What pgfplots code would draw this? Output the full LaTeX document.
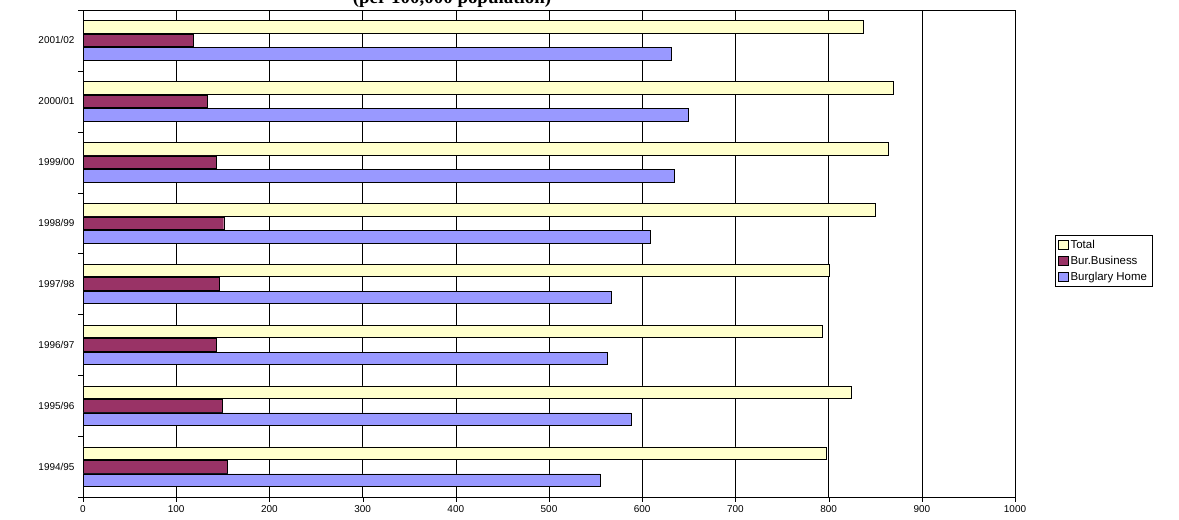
\documentclass[border=0pt]{standalone}
\usepackage{pgfplots}
\pgfplotsset{compat=1.18}
\usepackage{fontspec}
\setmainfont{Liberation Sans}
\newfontfamily\serifb{Liberation Serif}
\definecolor{cT}{HTML}{FFFFCC}
\definecolor{cB}{HTML}{993366}
\definecolor{cH}{HTML}{9999FF}
\begin{document}
\begin{tikzpicture}[x=1bp,y=1bp]
\useasboundingbox (0,0) rectangle (1179,520);
\begin{scope}
\clip (0,0) rectangle (1179,520);
\node[font=\serifb\bfseries\fontsize{19}{20}\selectfont] at (452,521) {(per 100,000 population)};
\end{scope}
\begin{axis}[at={(83bp,23bp)},anchor=south west,scale only axis,width=932bp,height=487bp,
 xbar, bar width=12.5bp,
 xmin=0,xmax=1000,ymin=-0.5,ymax=7.5,
 xtick={0,100,...,1000}, xmajorgrids, major grid style={black,line width=0.5pt},
 ytick={0,...,7}, yticklabels={1994/95,1995/96,1996/97,1997/98,1998/99,1999/00,2000/01,2001/02},
 major y tick style={draw=none},
 minor ytick={-0.5,0.5,...,7.5}, minor tick length=5bp, minor y tick style={black},
 xtick style={black}, major tick length=5bp,
 xtick pos=bottom, ytick pos=left, tick align=outside,
 tick label style={font=\fontsize{10}{11}\selectfont},
 /pgf/number format/assume math mode=true,
 /pgf/number format/1000 sep={},
 axis line style={black,line width=0.6pt},
 legend style={at={(972bp,262bp)},anchor=north west,font=\fontsize{11.5}{13}\selectfont,draw=black,inner sep=3pt,row sep=2pt, legend cell align=left},
 legend image code/.code={\draw[#1,draw=black] (0,-4.5bp) rectangle (10bp,4.5bp);},
 ]
\addplot[fill=cT,draw=black,bar shift=13.5bp] coordinates {(797,0) (824,1) (793,2) (801,3) (850,4) (864,5) (869,6) (837,7)};
\addplot[fill=cB,draw=black,bar shift=0bp] coordinates {(155,0) (149,1) (143,2) (146,3) (151,4) (143,5) (133,6) (118,7)};
\addplot[fill=cH,draw=black,bar shift=-13.5bp] coordinates {(555,0) (588,1) (562,2) (567,3) (609,4) (634,5) (649,6) (631,7)};
\legend{Total,Bur.Business,Burglary Home}
\end{axis}
\end{tikzpicture}
\end{document}
